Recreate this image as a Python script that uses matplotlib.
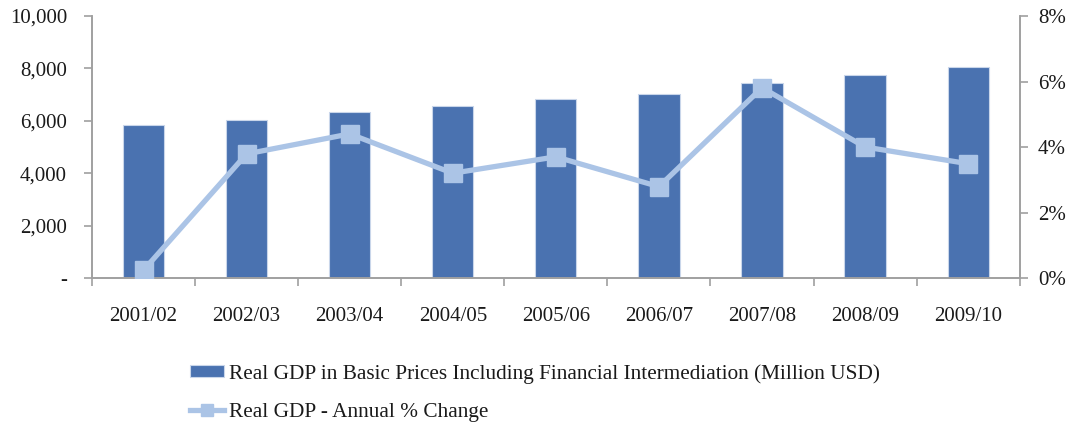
import matplotlib
matplotlib.use('Agg')
import matplotlib.pyplot as plt
import numpy as np

BAR   = '#4A72B0'
LINE  = '#ABC4E6'
AXIS  = '#A0A0A0'
TEXT  = '#1A1A1A'

plt.rcParams['font.family'] = ['Liberation Serif', 'DejaVu Serif']

years = ['2001/02', '2002/03', '2003/04', '2004/05', '2005/06',
         '2006/07', '2007/08', '2008/09', '2009/10']
gdp = [5840, 6030, 6350, 6565, 6820, 7035, 7455, 7750, 8040]
growth = [0.24, 3.79, 4.40, 3.20, 3.70, 2.79, 5.81, 4.00, 3.49]

fig = plt.figure(figsize=(10.7, 4.26), dpi=100)
fig.patch.set_facecolor('white')
ax = fig.add_axes([0.086, 0.3474, 0.867, 0.615])
ax2 = ax.twinx()

x = np.arange(len(years))
bars = ax.bar(x, gdp, 0.4, color=BAR, edgecolor='#C9D6EA', linewidth=0.8,
              label='Real GDP in Basic Prices Including Financial Intermediation (Million USD)',
              zorder=2)
ln, = ax2.plot(x, growth, color=LINE, linewidth=3.8, marker='s', markersize=13,
               label='Real GDP - Annual % Change', zorder=3)

ax.set_xlim(-0.5, len(years) - 0.5)
ax.set_ylim(0, 10000)
ax2.set_ylim(0, 8)
ax.set_yticks(np.arange(0, 10001, 2000))
ax.set_yticklabels(['-'] + [f'{v:,}' for v in range(2000, 10001, 2000)])
ax2.set_yticks(np.arange(0, 9, 2))
ax2.set_yticklabels([f'{v}%' for v in range(0, 9, 2)])

ax.set_xticks(np.arange(-0.5, len(years), 1.0))
ax.set_xticklabels([])
ax.set_xticks(x, minor=True)
ax.set_xticklabels(years, minor=True)
ax.tick_params(axis='x', which='minor', length=0, pad=21, labelsize=15, labelcolor=TEXT)
ax.tick_params(axis='x', which='major', length=6, width=1.2, color=AXIS, direction='out')
ax.tick_params(axis='y', length=6, width=1.2, color=AXIS, labelsize=15, labelcolor=TEXT, pad=12)
ax2.tick_params(axis='y', length=6, width=1.2, color=AXIS, labelsize=15, labelcolor=TEXT, pad=7)

for a in (ax, ax2):
    a.spines['top'].set_visible(False)
    for s in ('left', 'right', 'bottom'):
        a.spines[s].set_color(AXIS)
        a.spines[s].set_linewidth(1.2)

ax.set_zorder(ax2.get_zorder() - 1)
ax.patch.set_visible(False)

leg = fig.legend([bars, ln], [bars.get_label(), ln.get_label()],
                 loc='upper left', bbox_to_anchor=(0.178, 0.145), frameon=False,
                 fontsize=15.3, handlelength=1.6, handleheight=0.5, handletextpad=0.2,
                 labelspacing=0.9, markerscale=0.7, borderaxespad=0, borderpad=0)
for t in leg.get_texts():
    t.set_color(TEXT)

fig.savefig('out.png', dpi=100)
plt.close(fig)
